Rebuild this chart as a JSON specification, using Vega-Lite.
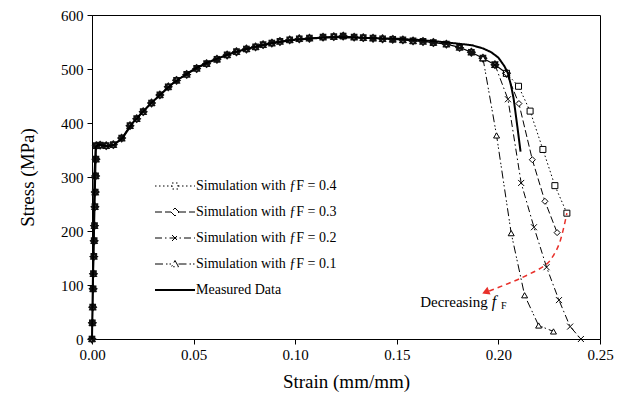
{
  "$schema": "https://vega.github.io/schema/vega-lite/v6.json",
  "width": 508,
  "height": 324,
  "autosize": "none",
  "padding": {"left": 92, "top": 15, "right": 30, "bottom": 61},
  "background": "white",
  "datasets": {
    "measured": [
      {"s": "Measured Data", "x": 0, "y": 0}, {"s": "Measured Data", "x": 0.0012, "y": 300}, {"s": "Measured Data", "x": 0.0018, "y": 355},
      {"s": "Measured Data", "x": 0.003, "y": 360}, {"s": "Measured Data", "x": 0.008, "y": 357}, {"s": "Measured Data", "x": 0.011, "y": 360},
      {"s": "Measured Data", "x": 0.015, "y": 372}, {"s": "Measured Data", "x": 0.02, "y": 400}, {"s": "Measured Data", "x": 0.025, "y": 421},
      {"s": "Measured Data", "x": 0.03, "y": 440}, {"s": "Measured Data", "x": 0.035, "y": 457}, {"s": "Measured Data", "x": 0.04, "y": 474},
      {"s": "Measured Data", "x": 0.045, "y": 487}, {"s": "Measured Data", "x": 0.05, "y": 499}, {"s": "Measured Data", "x": 0.055, "y": 509},
      {"s": "Measured Data", "x": 0.06, "y": 517}, {"s": "Measured Data", "x": 0.07, "y": 531}, {"s": "Measured Data", "x": 0.08, "y": 541},
      {"s": "Measured Data", "x": 0.09, "y": 549}, {"s": "Measured Data", "x": 0.1, "y": 554}, {"s": "Measured Data", "x": 0.11, "y": 557},
      {"s": "Measured Data", "x": 0.12, "y": 559}, {"s": "Measured Data", "x": 0.13, "y": 558}, {"s": "Measured Data", "x": 0.14, "y": 557},
      {"s": "Measured Data", "x": 0.15, "y": 556}, {"s": "Measured Data", "x": 0.16, "y": 554}, {"s": "Measured Data", "x": 0.17, "y": 551},
      {"s": "Measured Data", "x": 0.18, "y": 547}, {"s": "Measured Data", "x": 0.187, "y": 544}, {"s": "Measured Data", "x": 0.1925, "y": 538},
      {"s": "Measured Data", "x": 0.1965, "y": 531}, {"s": "Measured Data", "x": 0.2, "y": 521}, {"s": "Measured Data", "x": 0.203, "y": 505},
      {"s": "Measured Data", "x": 0.2047, "y": 492}, {"s": "Measured Data", "x": 0.2063, "y": 468}, {"s": "Measured Data", "x": 0.2075, "y": 445},
      {"s": "Measured Data", "x": 0.2091, "y": 400}, {"s": "Measured Data", "x": 0.2109, "y": 347}
    ],
    "sim": [
      {"s": "common", "x": 0, "y": 0}, {"s": "common", "x": 0.00018, "y": 30}, {"s": "common", "x": 0.00035, "y": 59},
      {"s": "common", "x": 0.00055, "y": 93}, {"s": "common", "x": 0.00071, "y": 121}, {"s": "common", "x": 0.0009, "y": 153},
      {"s": "common", "x": 0.00107, "y": 182}, {"s": "common", "x": 0.00123, "y": 210}, {"s": "common", "x": 0.00144, "y": 245},
      {"s": "common", "x": 0.0016, "y": 272}, {"s": "common", "x": 0.00177, "y": 302}, {"s": "common", "x": 0.00195, "y": 333},
      {"s": "common", "x": 0.0021, "y": 358}, {"s": "common", "x": 0.004, "y": 359}, {"s": "common", "x": 0.007, "y": 358},
      {"s": "common", "x": 0.0105, "y": 360}, {"s": "common", "x": 0.0146, "y": 372}, {"s": "common", "x": 0.0187, "y": 395},
      {"s": "common", "x": 0.022, "y": 408}, {"s": "common", "x": 0.0252, "y": 421}, {"s": "common", "x": 0.0293, "y": 437},
      {"s": "common", "x": 0.0334, "y": 452}, {"s": "common", "x": 0.0375, "y": 467}, {"s": "common", "x": 0.0416, "y": 479},
      {"s": "common", "x": 0.0466, "y": 490}, {"s": "common", "x": 0.0515, "y": 501}, {"s": "common", "x": 0.0564, "y": 510},
      {"s": "common", "x": 0.0615, "y": 518}, {"s": "common", "x": 0.0665, "y": 526}, {"s": "common", "x": 0.0711, "y": 532},
      {"s": "common", "x": 0.076, "y": 537}, {"s": "common", "x": 0.0805, "y": 541}, {"s": "common", "x": 0.0842, "y": 545},
      {"s": "common", "x": 0.0885, "y": 548}, {"s": "common", "x": 0.0925, "y": 551}, {"s": "common", "x": 0.0973, "y": 554},
      {"s": "common", "x": 0.102, "y": 556}, {"s": "common", "x": 0.107, "y": 557}, {"s": "common", "x": 0.1137, "y": 559},
      {"s": "common", "x": 0.119, "y": 560}, {"s": "common", "x": 0.1236, "y": 561}, {"s": "common", "x": 0.129, "y": 559},
      {"s": "common", "x": 0.1335, "y": 558}, {"s": "common", "x": 0.1383, "y": 557}, {"s": "common", "x": 0.143, "y": 556},
      {"s": "common", "x": 0.148, "y": 555}, {"s": "common", "x": 0.153, "y": 554}, {"s": "common", "x": 0.158, "y": 552},
      {"s": "common", "x": 0.1629, "y": 551}, {"s": "common", "x": 0.168, "y": 549}, {"s": "common", "x": 0.1744, "y": 546},
      {"s": "common", "x": 0.1809, "y": 540}, {"s": "common", "x": 0.1867, "y": 531}, {"s": "common", "x": 0.1924, "y": 520},
      {"s": "common", "x": 0.1983, "y": 508}, {"s": "common", "x": 0.204, "y": 492},
      {"s": "Simulation with ƒF = 0.4", "x": 0.204, "y": 492}, {"s": "Simulation with ƒF = 0.4", "x": 0.2099, "y": 468},
      {"s": "Simulation with ƒF = 0.4", "x": 0.2156, "y": 422}, {"s": "Simulation with ƒF = 0.4", "x": 0.2219, "y": 351},
      {"s": "Simulation with ƒF = 0.4", "x": 0.2278, "y": 284}, {"s": "Simulation with ƒF = 0.4", "x": 0.2337, "y": 233},
      {"s": "Simulation with ƒF = 0.3", "x": 0.204, "y": 492}, {"s": "Simulation with ƒF = 0.3", "x": 0.2101, "y": 436},
      {"s": "Simulation with ƒF = 0.3", "x": 0.2167, "y": 332}, {"s": "Simulation with ƒF = 0.3", "x": 0.2229, "y": 255},
      {"s": "Simulation with ƒF = 0.3", "x": 0.2289, "y": 197},
      {"s": "Simulation with ƒF = 0.2", "x": 0.1983, "y": 508}, {"s": "Simulation with ƒF = 0.2", "x": 0.2047, "y": 444},
      {"s": "Simulation with ƒF = 0.2", "x": 0.2112, "y": 289}, {"s": "Simulation with ƒF = 0.2", "x": 0.2175, "y": 207},
      {"s": "Simulation with ƒF = 0.2", "x": 0.2237, "y": 133}, {"s": "Simulation with ƒF = 0.2", "x": 0.2298, "y": 72},
      {"s": "Simulation with ƒF = 0.2", "x": 0.2353, "y": 23}, {"s": "Simulation with ƒF = 0.2", "x": 0.2406, "y": 0},
      {"s": "Simulation with ƒF = 0.1", "x": 0.1924, "y": 520}, {"s": "Simulation with ƒF = 0.1", "x": 0.1991, "y": 377},
      {"s": "Simulation with ƒF = 0.1", "x": 0.2063, "y": 196}, {"s": "Simulation with ƒF = 0.1", "x": 0.2129, "y": 81},
      {"s": "Simulation with ƒF = 0.1", "x": 0.2198, "y": 25}, {"s": "Simulation with ƒF = 0.1", "x": 0.2271, "y": 14}
    ],
    "arrow": [
      {"x": 0.2337, "y": 233}, {"x": 0.2301, "y": 178}, {"x": 0.2268, "y": 153},
      {"x": 0.2235, "y": 138}, {"x": 0.2112, "y": 113}, {"x": 0.1955, "y": 89}
    ],
    "tip": [{"x": 0.1937, "y": 87}],
    "note": [
      {"part": "main", "x": 0.1947, "y": 69, "t": "Decreasing"},
      {"part": "f", "x": 0.1967, "y": 69, "t": "f"},
      {"part": "sub", "x": 0.2013, "y": 61, "t": "F"}
    ]
  },
  "encoding": {
    "x": {"field": "x", "type": "quantitative", "scale": {"domain": [0, 0.25], "nice": false},
      "axis": {"title": "Strain (mm/mm)", "values": [0, 0.05, 0.1, 0.15, 0.2, 0.25], "format": ".2f", "titlePadding": 10, "labelPadding": 3, "labelFlush": false}},
    "y": {"field": "y", "type": "quantitative", "scale": {"domain": [0, 600], "nice": false},
      "axis": {"title": "Stress (MPa)", "values": [0, 100, 200, 300, 400, 500, 600], "format": "d", "titlePadding": 23, "labelPadding": 4, "labelFlush": false}}
  },
  "layer": [
    {
      "data": {"name": "sim"},
      "transform": [{"filter": "datum.s === 'common'"}],
      "mark": {"type": "line", "color": "black", "strokeWidth": 1.2},
      "encoding": {}
    },
    {
      "data": {"name": "sim"},
      "transform": [{"filter": "datum.s === 'common'"}],
      "mark": {"type": "point", "filled": false, "color": "#111111", "opacity": 1, "strokeWidth": 1.3, "size": 36,
        "shape": "M-0.9,-0.9H0.9V0.9H-0.9ZM0,-1.25L1.25,0L0,1.25L-1.25,0ZM-1,-1L1,1M-1,1L1,-1M0,-1.1L1,0.8H-1Z"},
      "encoding": {}
    },
    {
      "data": {"name": "sim"},
      "transform": [{"filter": "datum.s !== 'common'"}],
      "mark": {"type": "line", "color": "black", "strokeWidth": 1},
      "encoding": {
        "strokeDash": {"field": "s", "type": "nominal",
          "scale": {"domain": ["Simulation with ƒF = 0.4", "Simulation with ƒF = 0.3", "Simulation with ƒF = 0.2", "Simulation with ƒF = 0.1", "Measured Data"],
            "range": [[1.5, 2.5], [7, 3], [7, 3, 1.5, 3], [8, 3, 1.5, 2, 1.5, 3], [1, 0]]},
          "legend": {
            "title": null, "orient": "none", "legendX": 76, "legendY": 164,
            "labelFont": "Liberation Serif", "labelFontSize": 14, "labelColor": "black", "labelOffset": 14,
            "rowPadding": 12, "symbolSize": 100, "symbolStrokeColor": "black",
            "encode": {"symbols": {"update": {
              "shape": {"signal": "datum.value === 'Measured Data' ? 'M-4,0H4' : indexof(datum.value, '0.4') >= 0 ? 'M-4,0H-0.6M0.6,0H4M-0.6,-0.6H0.6V0.6H-0.6Z' : indexof(datum.value, '0.3') >= 0 ? 'M-4,0H-0.8M0.8,0H4M0,-0.8L0.8,0L0,0.8L-0.8,0Z' : indexof(datum.value, '0.2') >= 0 ? 'M-4,0H4M-0.6,-0.6L0.6,0.6M-0.6,0.6L0.6,-0.6' : 'M-4,0H-0.7M0.7,0H4M0,-0.7L0.7,0.55H-0.7Z'"},
              "strokeWidth": {"signal": "datum.value === 'Measured Data' ? 2 : 1"},
              "fill": {"value": "white"},
              "stroke": {"value": "black"}
            }}}
          }
        }
      }
    },
    {
      "data": {"name": "sim"},
      "transform": [{"filter": "datum.s !== 'common'"}],
      "mark": {"type": "point", "filled": true, "fill": "white", "stroke": "black", "strokeWidth": 1, "opacity": 1, "size": 36},
      "encoding": {
        "shape": {"field": "s", "type": "nominal", "legend": null,
          "scale": {"domain": ["Simulation with ƒF = 0.4", "Simulation with ƒF = 0.3", "Simulation with ƒF = 0.2", "Simulation with ƒF = 0.1"],
            "range": ["square", "diamond", "M-1,-1L1,1M-1,1L1,-1", "triangle-up"]}}
      }
    },
    {
      "data": {"name": "measured"},
      "mark": {"type": "line", "color": "black", "strokeWidth": 2},
      "encoding": {
        "strokeDash": {"field": "s", "type": "nominal",
          "legend": {
            "title": null, "orient": "none", "legendX": 76, "legendY": 164,
            "labelFont": "Liberation Serif", "labelFontSize": 14, "labelColor": "black", "labelOffset": 14,
            "rowPadding": 12, "symbolSize": 100, "symbolStrokeColor": "black",
            "encode": {"symbols": {"update": {
              "shape": {"signal": "datum.value === 'Measured Data' ? 'M-4,0H4' : indexof(datum.value, '0.4') >= 0 ? 'M-4,0H-0.6M0.6,0H4M-0.6,-0.6H0.6V0.6H-0.6Z' : indexof(datum.value, '0.3') >= 0 ? 'M-4,0H-0.8M0.8,0H4M0,-0.8L0.8,0L0,0.8L-0.8,0Z' : indexof(datum.value, '0.2') >= 0 ? 'M-4,0H4M-0.6,-0.6L0.6,0.6M-0.6,0.6L0.6,-0.6' : 'M-4,0H-0.7M0.7,0H4M0,-0.7L0.7,0.55H-0.7Z'"},
              "strokeWidth": {"signal": "datum.value === 'Measured Data' ? 2 : 1"},
              "fill": {"value": "white"},
              "stroke": {"value": "black"}
            }}}
          }
        }
      }
    },
    {
      "data": {"name": "arrow"},
      "mark": {"type": "line", "color": "#e8302a", "strokeWidth": 1.5, "strokeDash": [5, 4], "interpolate": "catmull-rom"},
      "encoding": {}
    },
    {
      "data": {"name": "tip"},
      "mark": {"type": "point", "shape": "triangle-left", "filled": true, "color": "#e8302a", "size": 70, "angle": 338, "opacity": 1},
      "encoding": {}
    },
    {
      "data": {"name": "note"},
      "transform": [{"filter": "datum.part === 'main'"}],
      "mark": {"type": "text", "font": "Liberation Serif", "fontSize": 15, "align": "right", "baseline": "middle", "color": "black"},
      "encoding": {"text": {"field": "t"}}
    },
    {
      "data": {"name": "note"},
      "transform": [{"filter": "datum.part === 'f'"}],
      "mark": {"type": "text", "font": "Liberation Serif", "fontSize": 16, "fontStyle": "italic", "align": "left", "baseline": "middle", "color": "black"},
      "encoding": {"text": {"field": "t"}}
    },
    {
      "data": {"name": "note"},
      "transform": [{"filter": "datum.part === 'sub'"}],
      "mark": {"type": "text", "font": "Liberation Serif", "fontSize": 10, "align": "left", "baseline": "middle", "color": "black"},
      "encoding": {"text": {"field": "t"}}
    }
  ],
  "config": {
    "view": {"stroke": "black", "strokeWidth": 1},
    "axis": {
      "grid": false, "domainColor": "black", "tickColor": "black", "tickSize": 5,
      "labelFont": "Liberation Serif", "labelFontSize": 15, "labelColor": "black",
      "titleFont": "Liberation Serif", "titleFontSize": 19, "titleFontWeight": "normal", "titleColor": "black"
    }
  }
}
